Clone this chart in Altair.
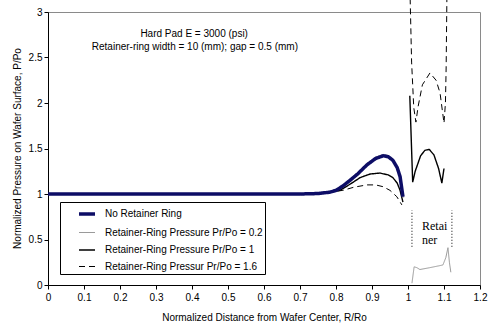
import altair as alt
import pandas as pd

# ---------------- data ----------------
series_names = [
    "No Retainer Ring",
    "Retainer-Ring Pressure Pr/Po = 0.2",
    "Retainer-Ring Pressure Pr/Po = 1",
    "Retainer-Ring Pressur Pr/Po = 1.6",
]
series_colors = ["#0d0d66", "#9a9a9a", "#000000", "#000000"]
series_dash = [[1, 0], [1, 0], [1, 0], [6, 4]]
series_width = [3.5, 1.0, 1.4, 1.0]

# No retainer ring (wafer only)
navy_x = [0, 0.3, 0.6, 0.7, 0.75, 0.783, 0.8, 0.82, 0.839, 0.86, 0.886, 0.91, 0.931, 0.945, 0.958, 0.97, 0.978, 0.986]
navy_y = [1, 1, 1, 1.0, 1.005, 1.02, 1.04, 1.09, 1.15, 1.22, 1.32, 1.39, 1.42, 1.41, 1.37, 1.29, 1.19, 0.97]

# Pr/Po = 0.2 : wafer part and retainer part
p02_wafer_x = [0, 0.3, 0.6, 0.7, 0.75, 0.783, 0.8, 0.82, 0.839, 0.86, 0.886, 0.91, 0.931, 0.945, 0.958, 0.97, 0.978, 0.988]
p02_wafer_y = [1.005, 1.005, 1.005, 1.005, 1.012, 1.03, 1.05, 1.10, 1.165, 1.235, 1.335, 1.405, 1.435, 1.425, 1.385, 1.30, 1.20, 0.96]
p02_ring_x = [1.011, 1.017, 1.025, 1.033, 1.06, 1.085, 1.097, 1.105, 1.111, 1.115, 1.119]
p02_ring_y = [0.02, 0.2, 0.19, 0.17, 0.19, 0.21, 0.22, 0.3, 0.41, 0.25, 0.14]

# Pr/Po = 1
p1_wafer_x = [0, 0.3, 0.6, 0.7, 0.75, 0.8, 0.811, 0.84, 0.867, 0.895, 0.922, 0.945, 0.958, 0.97, 0.978, 0.986]
p1_wafer_y = [1, 1, 1, 1, 1.005, 1.03, 1.04, 1.11, 1.18, 1.22, 1.23, 1.21, 1.18, 1.12, 1.04, 0.91]
p1_ring_x = [1.005, 1.013, 1.02, 1.035, 1.047, 1.059, 1.072, 1.085, 1.094, 1.1]
p1_ring_y = [2.08, 1.13, 1.25, 1.42, 1.48, 1.49, 1.43, 1.28, 1.12, 1.28]

# Pr/Po = 1.6
p16_wafer_x = [0, 0.3, 0.6, 0.7, 0.75, 0.8, 0.819, 0.85, 0.886, 0.91, 0.931, 0.95, 0.969, 0.983]
p16_wafer_y = [1, 1, 1, 1, 1.0, 1.03, 1.04, 1.075, 1.10, 1.10, 1.08, 1.04, 0.97, 0.88]
p16_ring_x = [1.006, 1.01, 1.016, 1.022, 1.028, 1.04, 1.061, 1.078, 1.089, 1.1, 1.104, 1.106, 1.108]
p16_ring_y = [3.15, 2.45, 1.95, 1.79, 1.96, 2.2, 2.33, 2.25, 2.11, 1.78, 2.0, 2.4, 3.15]

x_ticks = [0, 0.1, 0.2, 0.3, 0.4, 0.5, 0.6, 0.7, 0.8, 0.9, 1.0, 1.1, 1.2]
y_ticks = [0, 0.5, 1, 1.5, 2, 2.5, 3]

note_text = ["Hard Pad E = 3000 (psi)", "Retainer-ring width = 10 (mm); gap = 0.5 (mm)"]
note_x = [0.406, 0.408]
note_y = [2.76, 2.615]

ring_label = ["Retai", "ner"]
ring_label_x = [1.039, 1.039]
ring_label_y = [0.65, 0.495]

ring_edge_x = [1.011, 1.122]
ring_edge_y1 = [0.42, 0.42]
ring_edge_y2 = [0.82, 0.82]


def make_df(name, segments):
    rows = []
    for seg_id, (xs, ys) in enumerate(segments):
        for xv, yv in zip(xs, ys):
            rows.append({"series": name, "seg": seg_id, "x": xv, "y": yv})
    return pd.DataFrame(rows)


df_navy = make_df(series_names[0], [(navy_x, navy_y)])
df_p02 = make_df(series_names[1], [(p02_wafer_x, p02_wafer_y), (p02_ring_x, p02_ring_y)])
df_p1 = make_df(series_names[2], [(p1_wafer_x, p1_wafer_y), (p1_ring_x, p1_ring_y)])
df_p16 = make_df(series_names[3], [(p16_wafer_x, p16_wafer_y), (p16_ring_x, p16_ring_y)])

xscale = alt.Scale(domain=[0, 1.2], nice=False, zero=False)
yscale = alt.Scale(domain=[0, 3], nice=False, zero=False)

x_axis = alt.Axis(values=x_ticks, format="~g", title="Normalized Distance from Wafer Center, R/Ro",
                  tickSize=4, labelPadding=3, titlePadding=10, labelOverlap=False, labelFlush=False)
y_axis = alt.Axis(values=y_ticks, format="~g", title="Normalized Pressure on Wafer Surface, P/Po",
                  tickSize=4, labelPadding=2, titleX=-31, titleY=136, titleAngle=270,
                  titleAlign="center", titleBaseline="middle", labelOverlap=False, labelFlush=False)

X = lambda f: alt.X(f, scale=xscale, axis=x_axis)
Y = lambda f: alt.Y(f, scale=yscale, axis=y_axis)


def line_layer(df):
    return alt.Chart(df).mark_line(clip=False, strokeCap="butt").encode(
        x=X("x:Q"),
        y=Y("y:Q"),
        color=alt.Color("series:N", scale=alt.Scale(domain=series_names, range=series_colors), title=None),
        strokeDash=alt.StrokeDash("series:N", scale=alt.Scale(type="ordinal", domain=series_names, range=series_dash), title=None),
        strokeWidth=alt.StrokeWidth("series:N", scale=alt.Scale(type="ordinal", domain=series_names, range=series_width), title=None),
        detail="seg:N",
        order="x:Q",
    )


notes = alt.Chart(pd.DataFrame({"t": note_text, "x": note_x, "y": note_y})).mark_text(
    font="Liberation Sans", fontSize=10, align="center", baseline="middle", color="black"
).encode(x=X("x:Q"), y=Y("y:Q"), text="t:N")

ring_text = alt.Chart(pd.DataFrame({"t": ring_label, "x": ring_label_x, "y": ring_label_y})).mark_text(
    font="Liberation Serif", fontSize=12, align="left", baseline="middle", color="black"
).encode(x=X("x:Q"), y=Y("y:Q"), text="t:N")

ring_edges = alt.Chart(pd.DataFrame({"x": ring_edge_x, "y1": ring_edge_y1, "y2": ring_edge_y2})).mark_rule(
    color="black", strokeWidth=1, strokeDash=[1, 2]
).encode(x=X("x:Q"), y=Y("y1:Q"), y2="y2:Q")

chart = alt.layer(
    line_layer(df_p02),
    line_layer(df_p16),
    line_layer(df_p1),
    line_layer(df_navy),
    notes,
    ring_text,
    ring_edges,
).properties(
    width=432,
    height=273,
    autosize=alt.AutoSizeParams(type="none"),
    padding={"left": 48, "top": 12, "right": 11, "bottom": 42},
    background="white",
).configure_view(
    stroke="#8a8a8a", strokeWidth=1
).configure_axis(
    grid=False, domainColor="black", tickColor="black", labelColor="black", titleColor="black",
    labelFont="Liberation Sans", labelFontSize=10, titleFont="Liberation Sans", titleFontSize=10,
    titleFontWeight="normal", labelOverlap=False,
).configure_legend(
    orient="none", legendX=12, legendY=190, strokeColor="black", fillColor="white",
    padding=2, symbolType="stroke", symbolSize=256, symbolOffset=15, labelOffset=8, rowPadding=3,
    labelFont="Liberation Sans", labelFontSize=10, labelColor="black", labelLimit=300,
)

chart.save("out.html", embed_options={"renderer": "svg", "actions": False})
